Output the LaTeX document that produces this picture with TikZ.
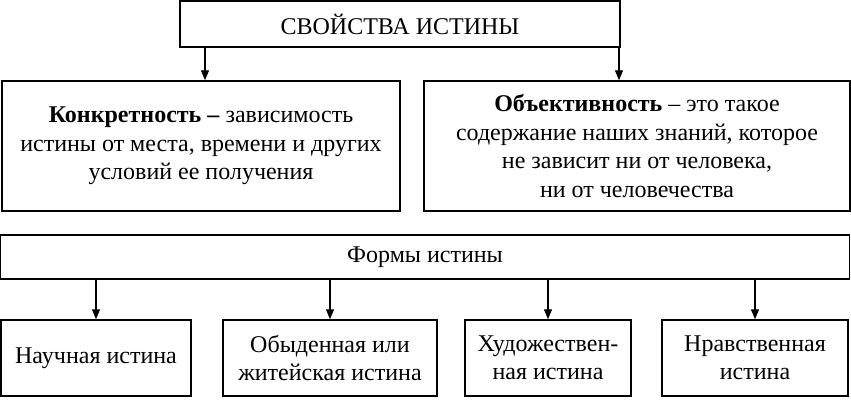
\documentclass[tikz,border=0pt]{standalone}
\usepackage{fontspec}
\setmainfont{Liberation Serif}
\usetikzlibrary{arrows.meta}
\begin{document}
\begin{tikzpicture}[x=1pt,y=-1pt,
  box/.style={draw,line width=1.5pt,inner sep=0pt,align=center,font=\fontsize{24}{28.5}\selectfont},
  arr/.style={line width=1.3pt,-{Triangle[length=10pt,width=8pt]}}]
\useasboundingbox (0,0) rectangle (851,400);
\fill[white] (0,0) rectangle (851,400);
\node[box,minimum width=440,minimum height=46] (top) at (400,24) {СВОЙСТВА ИСТИНЫ};
\node[box,minimum width=398,minimum height=130] (l) at (201,146) {\textbf{Конкретность –} зависимость\\истины от места, времени и других\\условий ее получения};
\node[box,minimum width=426,minimum height=130] (r) at (637,146) {\textbf{Объективность} – это такое\\содержание наших знаний, которое\\не зависит ни от человека,\\ни от человечества};
\node[box,minimum width=849,minimum height=44] (f) at (425,257) {Формы истины};
\node[box,minimum width=190,minimum height=76] (b1) at (96,358) {Научная истина};
\node[box,minimum width=214,minimum height=76] (b2) at (330,358) {Обыденная или\\житейская истина};
\node[box,minimum width=166,minimum height=76] (b3) at (548,358) {Художествен-\\ная истина};
\node[box,minimum width=186,minimum height=76] (b4) at (755,358) {Нравственная\\истина};
\draw[arr] (top.south -| 205,0) -- (l.north -| 205,0);
\draw[arr] (top.south -| 619,0) -- (r.north -| 619,0);
\draw[arr] (f.south -| b1.north) -- (b1.north);
\draw[arr] (f.south -| b2.north) -- (b2.north);
\draw[arr] (f.south -| b3.north) -- (b3.north);
\draw[arr] (f.south -| b4.north) -- (b4.north);
\end{tikzpicture}
\end{document}
